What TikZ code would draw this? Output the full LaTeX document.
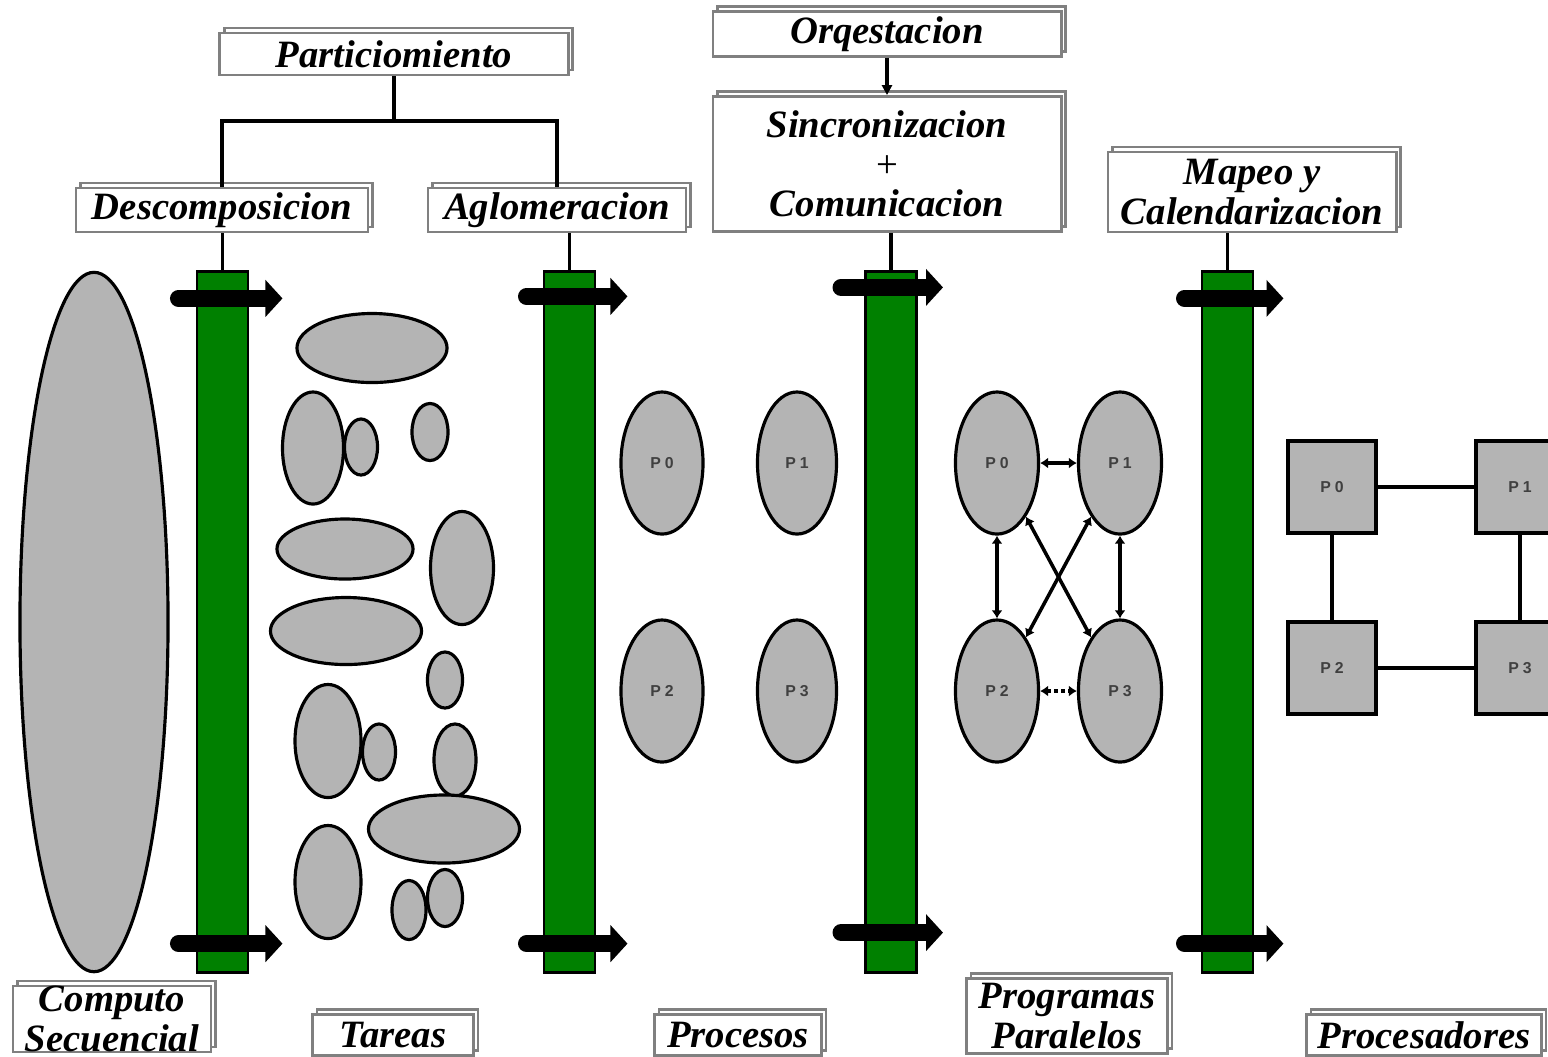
\documentclass[tikz,border=0pt]{standalone}
\usepackage{fontspec}
\setmainfont{Liberation Serif}
\newfontfamily\plabelfont[LetterSpace=25]{Liberation Sans}
\usetikzlibrary{positioning, arrows.meta, calc, shapes.geometric, shadows}

\definecolor{bargreen}{RGB}{0,128,0}
\definecolor{blobgray}{RGB}{180,180,180}
\definecolor{boxgray}{RGB}{128,128,128}

\begin{document}
\begin{tikzpicture}[x=0.01cm, y=-0.01cm,
  titlebox/.style={draw=boxgray, line width=0.8pt, fill=white, inner sep=0pt, align=center,
    font=\bfseries\itshape\fontsize{11}{11.2}\selectfont,
    copy shadow={shadow xshift=0.045cm, shadow yshift=0.05cm, draw=boxgray, fill=white, line width=0.8pt}},
  bar/.style={draw, line width=0.8pt, fill=bargreen, minimum width=0.51cm,
    minimum height=7cm, inner sep=0pt},
  blob/.style={ellipse, draw, line width=0.9pt, fill=blobgray, inner sep=0pt},
  procbox/.style={rectangle, draw, line width=0.9pt, fill=blobgray,
    minimum width=0.88cm, minimum height=0.92cm, inner sep=0pt},
  plabel/.style={font=\plabelfont\bfseries\fontsize{4.5}{5}\selectfont, text=black!75},
  conn/.style={line width=1pt},
  link/.style={<->, line width=1pt, >={Latex[length=0.08cm, width=0.11cm]}},
  blockarrow/.style={line width=0.17cm, line cap=round,
    -{Triangle[length=0.17cm, width=0.36cm]}}]

\useasboundingbox (0,0) rectangle (1548,1056);
\clip (0,0) rectangle (1548,1056);
\fill[white] (0,0) rectangle (1548,1056);

% --- Top labels ---
\node[titlebox, minimum width=3.48cm, minimum height=0.42cm] (part) at (394,54) {Particiomiento};
\node[titlebox, minimum width=2.92cm, minimum height=0.44cm] (desc) at (222,210) {Descomposicion};
\node[titlebox, minimum width=2.58cm, minimum height=0.44cm] (aglo) at (557,210) {Aglomeracion};
\node[titlebox, minimum width=3.48cm, minimum height=0.45cm] (orq) at (887,34) {Orqestacion};
\node[titlebox, minimum width=3.48cm, minimum height=1.35cm] (sinc) at (887,164)
  {Sincronizacion\\\textup{\mdseries +}\\Comunicacion};
\node[titlebox, minimum width=2.88cm, minimum height=0.80cm] (mapeo) at (1252,192)
  {Mapeo y\\Calendarizacion};

% --- Bottom labels ---
\node[titlebox, minimum width=1.98cm, minimum height=0.66cm] (seqlbl) at (112,1019) {Computo\\Secuencial};
\node[titlebox, minimum width=1.61cm, minimum height=0.41cm] (tarlbl) at (393,1035) {Tareas};
\node[titlebox, minimum width=1.67cm, minimum height=0.41cm] (prclbl) at (738,1035) {Procesos};
\node[titlebox, minimum width=2.01cm, minimum height=0.75cm] (pgmlbl) at (1067,1016) {Programas\\Paralelos};
\node[titlebox, minimum width=2.35cm, minimum height=0.41cm] (cpulbl) at (1424,1035) {Procesadores};

% --- Green bars ---
\node[bar] (bar1) at (222.5,622) {};
\node[bar] (bar2) at (569.5,622) {};
\node[bar] (bar3) at (891,622) {};
\node[bar] (bar4) at (1227.5,622) {};

% --- Block arrows on the bars ---
\foreach \b/\l/\r/\t/\d in {bar1/-44/60/28/30, bar2/-43/58/26/30, bar3/-50/52/17/41, bar4/-43/56/28/30} {
  \draw[blockarrow] ($(\b.north)+(\l,\t)$) -- ($(\b.north)+(\r,\t)$);
  \draw[blockarrow] ($(\b.south)+(\l,-\d)$) -- ($(\b.south)+(\r,-\d)$);
}

% --- Tree and links to bars ---
\coordinate (split) at (394,121);
\draw[conn] (part) -- (split);
\draw[conn] (split) -| (desc.north);
\draw[conn] (split) -| (aglo.north);
\draw[conn, -{Triangle[length=0.1cm, width=0.1cm]}] (orq) -- (sinc);
\draw[conn] (bar1.north |- desc.south) -- (bar1.north);
\draw[conn] (bar2.north |- aglo.south) -- (bar2.north);
\draw[conn] (bar3.north |- sinc.south) -- (bar3.north);
\draw[conn] (bar4.north |- mapeo.south) -- (bar4.north);

% --- Sequential computation ---
\node[blob, minimum width=1.48cm, minimum height=6.99cm] (seq) at (94,622) {};

% --- Tasks ---
\foreach \n/\x/\y/\w/\h in {1/372/348/1.50/0.69, 2/313/448/0.61/1.12, 3/361/447/0.33/0.56,
    4/430/432/0.36/0.57, 5/345/549/1.36/0.60, 6/462/568/0.63/1.13, 7/346/631/1.51/0.67,
    8/445/680/0.35/0.56, 9/328/741/0.66/1.13, 10/379/752/0.33/0.56, 11/455/760/0.42/0.72,
    12/444/829/1.51/0.68, 13/328/882/0.66/1.13, 14/409/910/0.34/0.59, 15/445/898/0.35/0.57}
  \node[blob, minimum width=\w cm, minimum height=\h cm] (task\n) at (\x,\y) {};

% --- Processes ---
\node[blob, plabel, minimum width=0.82cm, minimum height=1.42cm] (pr0) at (662,463) {P0};
\node[blob, plabel, minimum width=0.79cm, minimum height=1.42cm] (pr1) at (797,463) {P1};
\node[blob, plabel, minimum width=0.82cm, minimum height=1.42cm] (pr2) at (662,691) {P2};
\node[blob, plabel, minimum width=0.79cm, minimum height=1.42cm] (pr3) at (797,691) {P3};

% --- Parallel programs ---
\node[blob, plabel, minimum width=0.83cm, minimum height=1.42cm] (pp0) at (997,463) {P0};
\node[blob, plabel, minimum width=0.83cm, minimum height=1.42cm] (pp1) at (1120,463) {P1};
\node[blob, plabel, minimum width=0.83cm, minimum height=1.42cm] (pp2) at (997,691) {P2};
\node[blob, plabel, minimum width=0.83cm, minimum height=1.42cm] (pp3) at (1120,691) {P3};

\draw[link] (pp0) -- (pp1);
\draw[link] (pp0) -- (pp2);
\draw[link] (pp1) -- (pp3);
\draw[link] (pp0) -- (pp3);
\draw[link] (pp1) -- (pp2);
\draw[link, densely dotted] (pp2) -- (pp3);

% --- Processors ---
\node[procbox, plabel] (cpu0) at (1332,487) {P0};
\node[procbox, plabel] (cpu1) at (1520,487) {P1};
\node[procbox, plabel] (cpu2) at (1332,668) {P2};
\node[procbox, plabel] (cpu3) at (1520,668) {P3};

\draw[conn] (cpu0) -- (cpu1);
\draw[conn] (cpu0) -- (cpu2);
\draw[conn] (cpu1) -- (cpu3);
\draw[conn] (cpu2) -- (cpu3);

\end{tikzpicture}
\end{document}
